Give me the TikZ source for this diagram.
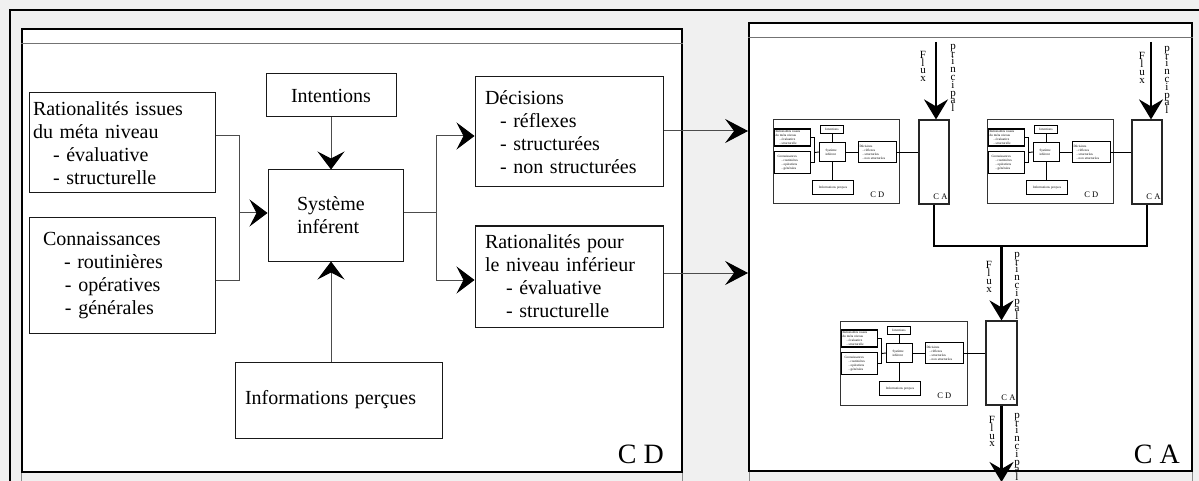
\documentclass[tikz,border=0pt]{standalone}
\usepackage{fontspec}
\setmainfont{Liberation Serif}
\usetikzlibrary{arrows.meta}
\definecolor{bggrey}{RGB}{240,240,240}
\newcommand\indentby[1]{\hspace*{#1pt}}

\tikzset{
  frameline/.style={draw=black, line width=2pt},
  panel/.style={draw=black, line width=1.8pt, fill=white, inner sep=0pt},
  hdr/.style={draw=black!55, line width=1pt},
  tail/.style={draw=black!45, line width=1pt},
  box/.style={draw=black!90, line width=1pt, fill=white, inner xsep=4pt, inner ysep=0pt,
    align=left, font=\fontsize{20}{23}\selectfont},
  link/.style={draw=black!70, line width=1pt},
  chev/.style={link, -{Stealth[length=18pt,width=27pt,inset=7pt,color=black]}},
  chevout/.style={link, -{Stealth[length=23pt,width=24pt,inset=9pt,color=black]}},
  flux/.style={draw=black, line width=2.2pt, -{Stealth[length=20pt,width=24pt,inset=7pt]}},
  stack/.style={align=center, inner sep=0pt,
    font={\fontsize{11}{7.8}\selectfont\lineskiplimit=-50pt}},
  bigtag/.style={anchor=base east, inner sep=0pt, font=\fontsize{28}{30}\selectfont},
  smalltag/.style={anchor=base east, inner sep=0pt, font=\fontsize{8.5}{9}\selectfont},
  mframe/.style={draw=black!80, line width=1pt, fill=white, inner sep=0pt},
  caframe/.style={draw=black!85, line width=1.2pt, fill=white, inner sep=0pt},
  mbox/.style={draw=black, line width=1.2pt, fill=white, inner xsep=1pt, inner ysep=0pt,
    align=left, font=\fontsize{3.3}{4}\selectfont},
  mlink/.style={draw=black, line width=0.9pt},
  bracketline/.style={draw=black, line width=2pt},
  % miniature decision level, origin at the frame's top-left corner
  minicd/.pic={
    \node[mbox, minimum width=36pt, minimum height=17pt, text width=34pt] (rat) at (20,18)
      {Rationalités issues\\du méta niveau\\\indentby{4}- évaluative\\\indentby{4}- structurelle};
    \node[mbox, minimum width=36pt, minimum height=22pt, text width=34pt] (con) at (20,43)
      {\indentby{2}Connaissances\\\indentby{6}- routinières\\\indentby{6}- opératives\\\indentby{6}- générales};
    \node[mbox, minimum width=23pt, minimum height=8pt, text width=21pt, align=center] (int) at (59.5,10)
      {Intentions};
    \node[mbox, minimum width=26pt, minimum height=19pt, text width=24pt] (sys) at (60,32.5)
      {\indentby{5}Système\\\indentby{5}inférent};
    \node[mbox, minimum width=38pt, minimum height=21pt, text width=36pt] (dec) at (105,32.5)
      {Décisions\\\indentby{3}- réflexes\\\indentby{3}- structurées\\\indentby{3}- non structurées};
    \node[mbox, minimum width=41pt, minimum height=14pt, text width=39pt, align=center] (inf) at (60.5,68)
      {Informations perçues};
    \node[smalltag] (lab) at (112,78) {C D};
    \draw[mlink] (rat.east) -| (42,33) |- (con.east);
    \draw[mlink] (42,33) -- (sys.west);
    \draw[mlink] (int.south) -- (int.south |- sys.north);
    \draw[mlink] (sys.south) -- (sys.south |- inf.north);
    \draw[mlink] (sys.east) -- (dec.west);
  }
}

\begin{document}
\begin{tikzpicture}[x=1pt,y=-1pt]
\useasboundingbox (0,0) rectangle (1199,481);
\fill[bggrey] (0,0) rectangle (1199,481);
\draw[frameline] (10,482) -- (10,10) -- (1199,10);

% ---------- decision level (left window) ----------
\node[panel, minimum width=660pt, minimum height=443pt] (cdpanel) at (352,250.5) {};
\draw[hdr] ([yshift=-15pt]cdpanel.north west) -- ([yshift=-15pt]cdpanel.north east);
\draw[tail] (cdpanel.south west) -- ++(0,12);
\draw[tail] (cdpanel.south east) -- ++(0,12);

\node[box, minimum width=186pt, minimum height=100pt, text width=178pt] (rat) at (122,143)
  {Rationalités issues\\du méta niveau\\\indentby{20}- évaluative\\\indentby{20}- structurelle};
\node[box, minimum width=186pt, minimum height=115pt, text width=178pt] (con) at (122,275.5)
  {\indentby{10}Connaissances\\\indentby{31}- routinières\\\indentby{32}- opératives\\\indentby{32}- générales};
\node[box, minimum width=130pt, minimum height=43pt, text width=122pt, align=center] (int) at (331,95.5)
  {Intentions};
\node[box, minimum width=135pt, minimum height=91pt, text width=127pt] (sys) at (335.5,215.5)
  {\indentby{25}Système\\\indentby{25}inférent};
\node[box, minimum width=188pt, minimum height=110pt, text width=180pt] (dec) at (569,132)
  {\indentby{6}Décisions\\\indentby{21}- réflexes\\\indentby{21}- structurées\\\indentby{21}- non structurées};
\node[box, minimum width=188pt, minimum height=101pt, text width=180pt] (rpn) at (569,276.5)
  {\indentby{6}Rationalités pour\\\indentby{6}le niveau inférieur\\\indentby{27}- évaluative\\\indentby{27}- structurelle};
\node[box, minimum width=207pt, minimum height=76pt, text width=199pt] (inf) at (338.5,400)
  {\indentby{6}Informations perçues};
\node[bigtag] (cdtag) at (664,463) {C D};

% inputs gathered into the inference system
\coordinate (jin) at (239,213);
\draw[link] ([yshift=7pt]rat.east) -| (jin);
\draw[link] ([yshift=-4.5pt]con.east) -| (jin);
\draw[chev] (jin) -- (jin -| sys.west);
\draw[chev] (int.south) -- (int.south |- sys.north);
\draw[chev] (inf.north -| int.south) -- (int.south |- sys.south);

% outputs of the inference system
\coordinate (jout) at (436,213);
\coordinate (dIn) at ([yshift=-4pt]dec.west);
\coordinate (rIn) at ([yshift=-3.5pt]rpn.west);
\draw[link] (jout -| sys.east) -- (jout);
\draw[chev] (jout) |- (dIn);
\draw[chev] (jout) |- (rIn);

% ---------- action level (right window) ----------
\node[panel, minimum width=443pt, minimum height=448pt] (capanel) at (970.5,247) {};
\draw[hdr] ([yshift=-15pt]capanel.north west) -- ([yshift=-15pt]capanel.north east);
\draw[tail] ([xshift=1pt]capanel.south west) -- ++(0,12);
\draw[tail] (capanel.south east) -- ++(0,12);
\node[bigtag] (catag) at (1180,463) {C A};

\coordinate (dOut) at ([yshift=1pt]dec.east);
\coordinate (rOut) at ([yshift=3.5pt]rpn.east);
\draw[chevout] (dOut) -- (dOut -| capanel.west);
\draw[chevout] (rOut) -- (rOut -| capanel.west);

% miniature decision/action pairs
\node[mframe, minimum width=126pt, minimum height=84pt] (cd1) at (836,162) {};
\node[caframe, minimum width=30pt, minimum height=84pt] (ca1) at (934,162) {};
\node[mframe, minimum width=126pt, minimum height=84pt] (cd2) at (1050,162) {};
\node[caframe, minimum width=30pt, minimum height=84pt] (ca2) at (1147,162) {};
\node[mframe, minimum width=127pt, minimum height=84pt] (cd3) at (903.5,363) {};
\node[caframe, minimum width=31pt, minimum height=84pt] (ca3) at (1001.5,363) {};

\pic (m1) at (cd1.north west) {minicd};
\pic (m2) at (cd2.north west) {minicd};
\pic (m3) at (cd3.north west) {minicd};

\node[smalltag] (ca1tag) at ([xshift=-2pt,yshift=5pt]ca1.south east) {C A};
\node[smalltag] (ca2tag) at ([xshift=-2pt,yshift=5pt]ca2.south east) {C A};
\node[smalltag] (ca3tag) at ([xshift=-2pt,yshift=5pt]ca3.south east) {C A};

\draw[mlink] (m1dec.east) -- (m1dec.east -| ca1.west);
\draw[mlink] (m2dec.east) -- (m2dec.east -| ca2.west);
\draw[mlink] (m3dec.east) -- (m3dec.east -| ca3.west);

% main flows
\coordinate (f1) at (936,42);
\coordinate (f2) at (1151,42);
\coordinate (f3) at (1001.5,246);
\coordinate (f4) at (1001.5,482);
\draw[bracketline] (ca1.south) |- (f3) -| (ca2.south);
\draw[flux] (f1) -- (f1 |- ca1.north);
\draw[flux] (f2) -- (f2 |- ca2.north);
\draw[flux] (f3) -- (ca3.north);
\draw[flux] (ca3.south) -- (f4);

\node[stack] (flx1) at (923,66.5) {F\\l\\u\\x};
\node[stack] (prn1) at (953,78) {p\\r\\i\\n\\c\\i\\p\\a\\l};
\node[stack] (flx2) at (1142,68) {F\\l\\u\\x};
\node[stack] (prn2) at (1167,80) {p\\r\\i\\n\\c\\i\\p\\a\\l};
\node[stack] (flx3) at (989,277) {F\\l\\u\\x};
\node[stack] (prn3) at (1017,286) {p\\r\\i\\n\\c\\i\\p\\a\\l};
\node[stack] (flx4) at (992,431.5) {F\\l\\u\\x};
\node[stack] (prn4) at (1017,447) {p\\r\\i\\n\\c\\i\\p\\a\\l};
\end{tikzpicture}
\end{document}
